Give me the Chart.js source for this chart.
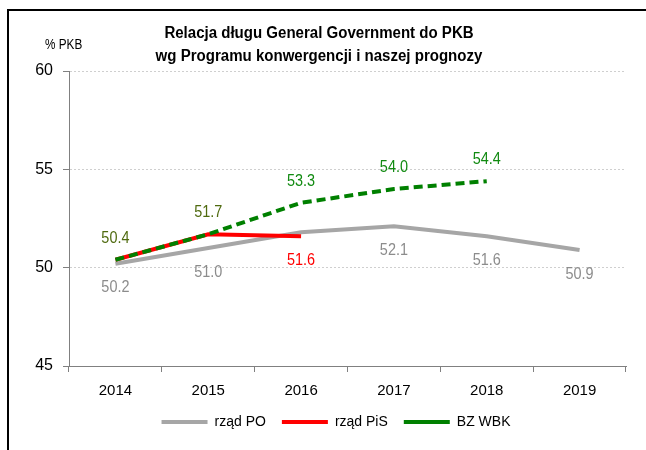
<!DOCTYPE html>
<html><head><meta charset="utf-8">
<script src="https://cdn.jsdelivr.net/npm/chart.js@4/dist/chart.umd.min.js"></script>
<style>
html,body{margin:0;padding:0;background:#fff;}
#wrap{position:relative;width:646px;height:450px;overflow:hidden;}
#frame{position:absolute;left:7px;top:9px;right:-5px;bottom:-5px;border-top:2px solid #000;border-left:2px solid #000;pointer-events:none;}
canvas{position:absolute;left:0;top:0;}
</style></head><body>
<div id="wrap"><canvas id="c" width="646" height="450"></canvas><div id="frame"></div></div>
<script>
const years = ['2014', '2015', '2016', '2017', '2018', '2019'];
const rzadPO = [50.2, 51.0, 51.8, 52.1, 51.6, 50.9];
const rzadPiS = [50.4, 51.7, 51.6, null, null, null];
const bzWbk = [50.4, 51.7, 53.3, 54.0, 54.4, null];
const yTicks = [45, 50, 55, 60];
const seriesNames = ['rząd PO', 'rząd PiS', 'BZ WBK'];
const titleLines = ['Relacja długu General Government do PKB', 'wg Programu konwergencji i naszej prognozy'];
const unitLabel = '% PKB';

const FONT = "'Liberation Sans', Arial, sans-serif";

function narrowText(ctx, text, x, y, font, sx, align) {
  ctx.save();
  ctx.font = font;
  ctx.textAlign = align;
  ctx.translate(x, y);
  ctx.scale(sx, 1);
  ctx.fillText(text, 0, 0);
  ctx.restore();
}

const extrasPlugin = {
  id: 'extras',
  afterLayout(chart) {
    const lg = chart.legend;
    if (lg) { lg.left += 23; lg.right += 23; }
  },
  afterDatasetsDraw(chart) {
    const ctx = chart.ctx;
    chart.data.datasets.forEach((ds, i) => {
      const meta = chart.getDatasetMeta(i);
      meta.data.forEach((pt, j) => {
        const col = ds.labelColors && ds.labelColors[j];
        const v = ds.data[j];
        if (!col || v == null) return;
        ctx.save();
        ctx.fillStyle = col;
        ctx.textBaseline = 'middle';
        narrowText(ctx, v.toFixed(1), pt.x, pt.y + ds.labelOffset, '17px ' + FONT, 0.85, 'center');
        ctx.restore();
      });
    });
    ctx.save();
    ctx.fillStyle = '#000';
    ctx.textBaseline = 'alphabetic';
    narrowText(ctx, titleLines[0], 319, 38, 'bold 16px ' + FONT, 0.94, 'center');
    narrowText(ctx, titleLines[1], 319, 61, 'bold 16px ' + FONT, 0.94, 'center');
    ctx.textBaseline = 'middle';
    narrowText(ctx, unitLabel, 45, 45, '14px ' + FONT, 0.84, 'left');
    ctx.restore();
  }
};

new Chart(document.getElementById('c'), {
  type: 'line',
  data: {
    labels: years,
    datasets: [
      {
        label: seriesNames[0], data: rzadPO, order: 3,
        borderColor: '#A6A6A6', backgroundColor: '#A6A6A6', borderWidth: 4,
        pointRadius: 0, tension: 0, fill: false,
        labelColors: ['#8C8C8C', '#8C8C8C', null, '#8C8C8C', '#8C8C8C', '#8C8C8C'], labelOffset: 24
      },
      {
        label: seriesNames[1], data: rzadPiS, order: 2,
        borderColor: '#FF0000', backgroundColor: '#FF0000', borderWidth: 4,
        pointRadius: 0, tension: 0, fill: false,
        labelColors: [null, null, '#FF0000', null, null, null], labelOffset: 24
      },
      {
        label: seriesNames[2], data: bzWbk, order: 1,
        borderColor: '#008000', backgroundColor: '#008000', borderWidth: 4,
        borderDash: [9, 5], pointRadius: 0, tension: 0, fill: false,
        labelColors: ['#4F6A0F', '#4F6A0F', '#118A11', '#118A11', '#118A11', null], labelOffset: -21.5
      }
    ]
  },
  options: {
    responsive: false,
    animation: false,
    devicePixelRatio: 1,
    layout: { padding: { left: 0, right: 20, top: 71, bottom: 11 } },
    plugins: {
      title: { display: false },
      tooltip: { enabled: false },
      legend: {
        display: true,
        position: 'bottom',
        labels: {
          usePointStyle: true,
          pointStyle: 'line',
          pointStyleWidth: 46,
          boxHeight: 4,
          padding: 16,
          color: '#000',
          font: { family: FONT, size: 14 },
          sort: (a, b) => a.datasetIndex - b.datasetIndex
        }
      }
    },
    scales: {
      x: {
        offset: true,
        afterFit: (s) => { s.height = 33; },
        grid: { display: true, drawOnChartArea: false, drawTicks: true, tickLength: 6, tickColor: '#808080', offset: true },
        border: { display: true, color: '#808080', width: 1 },
        ticks: { color: '#000', font: { family: FONT, size: 15 }, padding: 10, maxRotation: 0 }
      },
      y: {
        min: 45, max: 60,
        afterFit: (s) => { s.width = 69; },
        afterBuildTicks: (s) => { s.ticks = yTicks.map(v => ({ value: v })); },
        grid: {
          color: (c) => (c.tick && c.tick.value === 45) ? 'rgba(0,0,0,0)' : '#CFCFCF',
          lineWidth: 1, tickLength: 6, tickColor: '#808080', drawTicks: true
        },
        border: { display: true, color: '#808080', width: 1, dash: [2, 2] },
        ticks: { color: '#000', font: { family: FONT, size: 16 }, padding: 10 }
      }
    }
  },
  plugins: [extrasPlugin]
});
</script>
</body></html>
